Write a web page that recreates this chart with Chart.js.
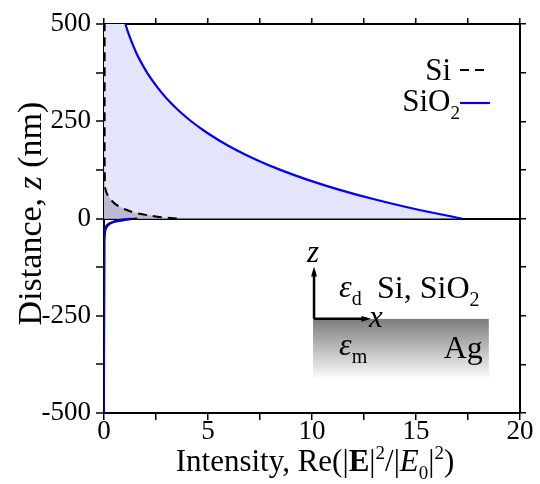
<!DOCTYPE html>
<html>
<head>
<meta charset="utf-8">
<script src="https://cdn.jsdelivr.net/npm/chart.js@4.4.0/dist/chart.umd.min.js"></script>
<style>
  html, body { margin: 0; background: #fff; }
  #wrap { width: 540px; height: 484px; }
</style>
</head>
<body>
<div id="wrap"><canvas id="chart" width="540" height="484"></canvas></div>
<script>
// values
const sio2Z = [0, 25, 50, 75, 100, 125, 150, 175, 200, 225, 250, 275, 300, 325, 350, 375, 400, 425, 450, 475, 500];
const sio2I = [17.2, 14.9, 12.95, 11.25, 9.77, 8.48, 7.37, 6.4, 5.56, 4.83, 4.19, 3.64, 3.16, 2.75, 2.39, 2.07, 1.8, 1.56, 1.36, 1.18, 1.03];

const siZ = [0, 2, 5, 10, 16, 25, 35, 50, 65, 78, 100, 200, 300, 400, 500];
const siI = [3.5, 3.0, 2.5, 1.95, 1.4, 0.95, 0.6, 0.3, 0.13, 0.06, 0.04, 0.03, 0.03, 0.03, 0.03];

// field inside the metal (z < 0)
const agSiZ = [0, -2, -4, -8, -15, -25, -40, -60, -500];
const agSiI = [1.6, 1.25, 1.0, 0.55, 0.25, 0.1, 0.04, 0.02, 0];
const agSio2Z = [0, -3, -8, -15, -25, -37, -60, -500];
const agSio2I = [1.3, 0.8, 0.45, 0.18, 0.06, 0.02, 0.01, 0];

const xMin = 0, xMax = 20, xStep = 2.5, xLabelEvery = 5;
const zMin = -500, zMax = 500, zStep = 125, zLabelEvery = 250;

const SERIF = "'Liberation Serif'";
const BLUE = "#0000f0";

const pts = (xs, zs) => zs.map((z, i) => ({ x: xs[i], y: z }));
const sio2Pts = pts(sio2I, sio2Z);
const siPts = pts(siI, siZ);

Chart.defaults.font.family = SERIF;
Chart.defaults.color = "#000";

// rich text helper: parts = [{t, st, sub, sup}]
function setFont(ctx, p, size) {
  const s = Math.round((p.sub || p.sup) ? size * 0.62 : size);
  ctx.font = (p.st ? p.st + " " : "") + s + "px " + SERIF;
}
function drawRich(ctx, parts, x, y, size, align) {
  let w = 0;
  parts.forEach(p => { setFont(ctx, p, size); w += ctx.measureText(p.t).width; });
  let cx = align === "center" ? x - w / 2 : align === "right" ? x - w : x;
  ctx.textBaseline = "alphabetic";
  ctx.textAlign = "left";
  parts.forEach(p => {
    setFont(ctx, p, size);
    const dy = p.sub ? size * 0.25 : p.sup ? -size * 0.38 : 0;
    ctx.fillText(p.t, cx, y + dy);
    cx += ctx.measureText(p.t).width;
  });
}
function arrow(ctx, x1, y1, x2, y2) {
  const a = Math.atan2(y2 - y1, x2 - x1), h = 10;
  ctx.beginPath();
  ctx.moveTo(x1, y1);
  ctx.lineTo(x2 - Math.cos(a) * 4, y2 - Math.sin(a) * 4);
  ctx.stroke();
  ctx.beginPath();
  ctx.moveTo(x2, y2);
  ctx.lineTo(x2 - h * Math.cos(a - 0.3), y2 - h * Math.sin(a - 0.3));
  ctx.lineTo(x2 - h * Math.cos(a + 0.3), y2 - h * Math.sin(a + 0.3));
  ctx.closePath();
  ctx.fill();
}

const annotations = {
  id: "annotations",
  afterDraw(chart) {
    const { ctx, chartArea: ca, scales } = chart;
    const X = v => scales.x.getPixelForValue(v);
    const Y = v => scales.y.getPixelForValue(v);
    ctx.save();
    ctx.fillStyle = "#000";

    // axis titles
    drawRich(ctx, [
      { t: "Intensity, Re(|" }, { t: "E", st: "bold" }, { t: "|" }, { t: "2", sup: true },
      { t: "/|" }, { t: "E", st: "italic" }, { t: "0", sub: true }, { t: "|" },
      { t: "2", sup: true }, { t: ")" }
    ], (ca.left + ca.right) / 2 + 3, 471, 31, "center");

    ctx.save();
    ctx.translate(41, (ca.top + ca.bottom) / 2 - 5);
    ctx.rotate(-Math.PI / 2);
    drawRich(ctx, [{ t: "Distance, " }, { t: "z", st: "italic" }, { t: " (nm)" }], 0, 0, 34, "center");
    ctx.restore();

    // legend
    const ds = chart.data.datasets;
    const lx1 = 460, lx2 = 490;
    drawRich(ctx, [{ t: "Si" }], 451, 80, 31, "right");
    ctx.strokeStyle = ds[3].borderColor; ctx.lineWidth = 2;
    ctx.setLineDash(ds[3].borderDash);
    ctx.beginPath(); ctx.moveTo(lx1, 70); ctx.lineTo(lx2, 70); ctx.stroke();
    ctx.setLineDash([]);
    drawRich(ctx, [{ t: "SiO" }, { t: "2", sub: true }], 460, 111, 31, "right");
    ctx.strokeStyle = ds[2].borderColor; ctx.lineWidth = 2.2;
    ctx.beginPath(); ctx.moveTo(lx1, 103); ctx.lineTo(lx2, 103); ctx.stroke();

    // inset sketch
    const rx1 = X(10.05), rx2 = X(18.5), ry1 = Y(-258), ry2 = Y(-415);
    const g = ctx.createLinearGradient(0, ry1, 0, ry2);
    g.addColorStop(0, "#7c7c7c");
    g.addColorStop(1, "#ffffff");
    ctx.fillStyle = g;
    ctx.fillRect(rx1, ry1, rx2 - rx1, ry2 - ry1);

    ctx.fillStyle = "#000"; ctx.strokeStyle = "#000"; ctx.lineWidth = 2.5;
    arrow(ctx, rx1 + 1, ry1, rx1 + 1, ry1 - 52);
    arrow(ctx, rx1 + 1, ry1, rx1 + 58, ry1);

    drawRich(ctx, [{ t: "z", st: "italic" }], rx1 - 6, ry1 - 57, 31, "left");
    drawRich(ctx, [{ t: "x", st: "italic" }], rx1 + 56, ry1 + 8, 31, "left");
    drawRich(ctx, [{ t: "ε", st: "italic" }, { t: "d", sub: true }], rx1 + 26, ry1 - 22, 32, "left");
    drawRich(ctx, [{ t: "Si, SiO" }, { t: "2", sub: true }], rx1 + 64, ry1 - 21, 32, "left");
    drawRich(ctx, [{ t: "ε", st: "italic" }, { t: "m", sub: true }], rx1 + 26, ry1 + 36, 32, "left");
    drawRich(ctx, [{ t: "Ag" }], rx2 - 6, ry1 + 39, 32, "right");
    ctx.restore();
  }
};

const fixSize = (w, h) => scale => {
  if (w !== undefined) scale.width = w;
  if (h !== undefined) scale.height = h;
};

const tickGrid = {
  drawOnChartArea: false,
  color: "#000",
  tickColor: "#000",
  tickLength: 6,
  lineWidth: 1.5
};
const axisBorder = { color: "#000", width: 2 };

// curves are smoothed along z
const curve = { showLine: true, pointRadius: 0, fill: false, indexAxis: "y", cubicInterpolationMode: "monotone" };

function draw() {
  new Chart(document.getElementById("chart"), {
    type: "scatter",
    data: {
      datasets: [
        {
          label: "SiO2 fill", order: 10,
          data: [{ x: 0, y: sio2Z[0] }, ...sio2Pts, { x: 0, y: sio2Z[sio2Z.length - 1] }],
          showLine: true, fill: "shape", backgroundColor: "#e4e4fa",
          borderWidth: 0, pointRadius: 0
        },
        {
          label: "Si fill", order: 9,
          data: [{ x: 0, y: siZ[0] }, ...siPts, { x: 0, y: siZ[siZ.length - 1] }],
          showLine: true, fill: "shape", backgroundColor: "#babad2",
          borderWidth: 0, pointRadius: 0
        },
        { ...curve, label: "SiO2", order: 2, data: sio2Pts, borderColor: BLUE, borderWidth: 2.2 },
        { ...curve, label: "Si", order: 1, data: siPts, borderColor: "#000", borderWidth: 2, borderDash: [9, 6] },
        { ...curve, label: "Si (Ag)", order: 4, data: pts(agSiI, agSiZ), borderColor: "#000", borderWidth: 2 },
        { ...curve, label: "SiO2 (Ag)", order: 3, data: pts(agSio2I, agSio2Z), borderColor: BLUE, borderWidth: 2 }
      ]
    },
    options: {
      responsive: false,
      animation: false,
      events: [],
      layout: { padding: 0 },
      plugins: { legend: { display: false }, tooltip: { enabled: false } },
      scales: {
        x: {
          type: "linear", position: "bottom", min: xMin, max: xMax,
          afterFit: fixSize(undefined, 71),
          grid: { ...tickGrid, tickLength: 7 },
          border: axisBorder,
          ticks: {
            stepSize: xStep, padding: -4, maxRotation: 0, autoSkip: false,
            font: { size: 27 }, color: "#000",
            callback: v => (v % xLabelEvery === 0 ? String(v) : "")
          }
        },
        x2: {
          type: "linear", position: "top", min: xMin, max: xMax,
          afterFit: fixSize(undefined, 24),
          grid: tickGrid, border: axisBorder,
          ticks: { stepSize: xStep, autoSkip: false, callback: () => "" }
        },
        y: {
          type: "linear", position: "left", min: zMin, max: zMax, z: 1,
          afterFit: fixSize(104, undefined),
          grid: {
            drawOnChartArea: true, tickLength: 8, lineWidth: 2, tickWidth: 1.5,
            tickColor: "#000",
            color: c => (c.tick && c.tick.value === 0 ? "#000" : "rgba(0,0,0,0)")
          },
          border: axisBorder,
          ticks: {
            stepSize: zStep, padding: 5, autoSkip: false,
            font: { size: 27 }, color: "#000",
            callback: v => (v % zLabelEvery === 0 ? String(v) : "")
          }
        },
        y2: {
          type: "linear", position: "right", min: zMin, max: zMax,
          afterFit: fixSize(20, undefined),
          grid: tickGrid, border: axisBorder,
          ticks: { stepSize: zStep, autoSkip: false, callback: () => "" }
        }
      }
    },
    plugins: [annotations]
  });
}

document.fonts.ready.then(draw, draw);
</script>
</body>
</html>
